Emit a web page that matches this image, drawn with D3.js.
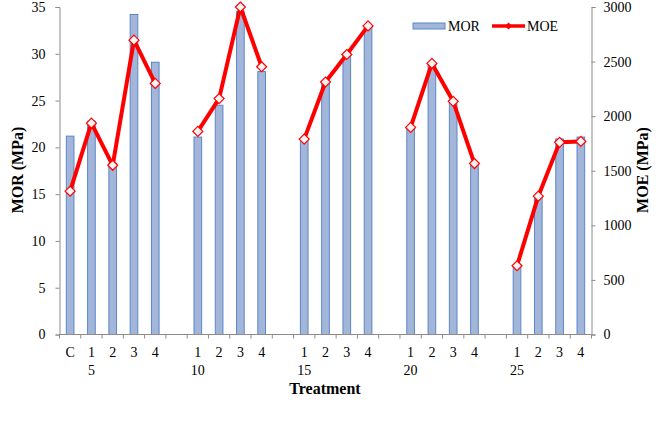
<!DOCTYPE html>
<html><head><meta charset="utf-8">
<script src="https://cdn.jsdelivr.net/npm/d3@7"></script>
<style>body{margin:0;background:#fff}svg{display:block}text{font-family:"Liberation Serif","Times New Roman","DejaVu Serif",serif;fill:#000}</style>
</head><body>
<svg id="c" width="661" height="423" font-family="Liberation Serif, Times New Roman, serif"></svg>
<script>
const categories = ["C","1","2","3","4","","1","2","3","4","","1","2","3","4","","1","2","3","4","","1","2","3","4"];
const groupLabels = ["","5","","","","","10","","","","","15","","","","","20","","","","","25","","",""];
const mor = [21.2,22.8,18.3,34.2,29.1,null,21.1,24.5,34.5,28.1,null,20.8,26.9,29.9,33.0,null,22.2,28.9,25.0,18.3,null,7.3,14.8,20.9,21.1];
const moe = [1313,1936,1550,2696,2300,null,1860,2161,3000,2453,null,1790,2313,2565,2827,null,1897,2483,2136,1566,null,630,1267,1760,1769];
const morTicks = [0,5,10,15,20,25,30,35];
const moeTicks = [0,500,1000,1500,2000,2500,3000];

const FONT = "'Liberation Serif','Times New Roman',serif";
const svg = d3.select("#c");
const L = 59.5, R = 591.5, T = 7, B = 334.5;
const idx = d3.range(categories.length);
const x = d3.scaleBand().domain(idx).range([L, R]).padding(0);
const yL = d3.scaleLinear().domain([0,35]).range([B, T]);
const yR = d3.scaleLinear().domain([0,3000]).range([B, T]);
const axisCol = "#8c8c8c";

// bars
const bw = x.bandwidth()*0.36;
svg.append("g").selectAll("rect").data(idx.filter(i => mor[i] != null)).join("rect")
  .attr("x", i => x(i) + x.bandwidth()/2 - bw/2)
  .attr("y", i => yL(mor[i]))
  .attr("width", bw)
  .attr("height", i => B - yL(mor[i]))
  .attr("fill", "#a3b6da").attr("stroke", "#5a87c6").attr("stroke-width", 1);

// axes
const gl = svg.append("g").attr("transform", `translate(${L},0)`)
  .call(d3.axisLeft(yL).tickValues(morTicks).tickSize(4).tickPadding(10));
const gr = svg.append("g").attr("transform", `translate(${R},0)`)
  .call(d3.axisRight(yR).tickValues(moeTicks).tickFormat(d3.format("d")).tickSize(4).tickPadding(8));
const gb = svg.append("g").attr("transform", `translate(0,${B})`)
  .call(d3.axisBottom(x).tickValues([]).tickSize(0));
svg.append("g").selectAll("line").data(d3.range(categories.length+1)).join("line")
  .attr("x1", i => i < categories.length ? x(i) : R).attr("x2", i => i < categories.length ? x(i) : R)
  .attr("y1", B).attr("y2", B+4).attr("stroke", axisCol);
[gl,gr,gb].forEach(g => {
  g.attr("font-family", null).attr("font-size", null);
  g.selectAll("path,line").attr("stroke", axisCol);
  g.selectAll("text").style("font-size","14px").style("font-family",FONT);
});
gb.select(".domain").attr("d", `M${L},0H${R}`);

// category labels
svg.append("g").selectAll("text").data(idx).join("text")
  .attr("x", i => x(i) + x.bandwidth()/2).attr("y", 357)
  .attr("text-anchor","middle").style("font-size","14px").style("font-family",FONT).text(i => categories[i]);
svg.append("g").selectAll("text").data(idx).join("text")
  .attr("x", i => x(i) + x.bandwidth()/2).attr("y", 375)
  .attr("text-anchor","middle").style("font-size","14px").style("font-family",FONT).text(i => groupLabels[i]);

// MOE line
const line = d3.line().defined(i => moe[i] != null)
  .x(i => x(i) + x.bandwidth()/2).y(i => yR(moe[i]));
svg.append("path").datum(idx).attr("d", line)
  .attr("fill","none").attr("stroke","#ff0000").attr("stroke-width",4).attr("stroke-linejoin","round");
const diamond = "M0,-5L5,0L0,5L-5,0Z";
svg.append("g").selectAll("path").data(idx.filter(i => moe[i] != null)).join("path")
  .attr("d", diamond)
  .attr("transform", i => `translate(${x(i)+x.bandwidth()/2},${yR(moe[i])})`)
  .attr("fill","#fff3f3").attr("stroke","#ff0000").attr("stroke-width",1.2);

// axis titles
svg.append("text").attr("transform","translate(23,170) rotate(-90)")
  .attr("text-anchor","middle").style("font-size","16px").style("font-weight","bold").style("font-family",FONT).text("MOR (MPa)");
svg.append("text").attr("transform","translate(648,170) rotate(-90)")
  .attr("text-anchor","middle").style("font-size","16px").style("font-weight","bold").style("font-family",FONT).text("MOE (MPa)");
svg.append("text").attr("x",325).attr("y",394)
  .attr("text-anchor","middle").style("font-size","16px").style("font-weight","bold").style("font-family",FONT).text("Treatment");

// legend
const lg = svg.append("g");
lg.append("rect").attr("x",413).attr("y",23).attr("width",32).attr("height",6)
  .attr("fill","#a3b6da").attr("stroke","#5a87c6").attr("stroke-width",1);
lg.append("text").attr("x",448).attr("y",31).style("font-size","14px").style("font-family",FONT).text("MOR");
lg.append("line").attr("x1",492).attr("x2",525).attr("y1",26).attr("y2",26)
  .attr("stroke","#ff0000").attr("stroke-width",3.5);
lg.append("path").attr("d","M0,-3.5L3.5,0L0,3.5L-3.5,0Z").attr("transform","translate(508.5,26)").attr("fill","#ff0000");
lg.append("text").attr("x",527).attr("y",31).style("font-size","14px").style("font-family",FONT).text("MOE");
</script>
</body></html>
